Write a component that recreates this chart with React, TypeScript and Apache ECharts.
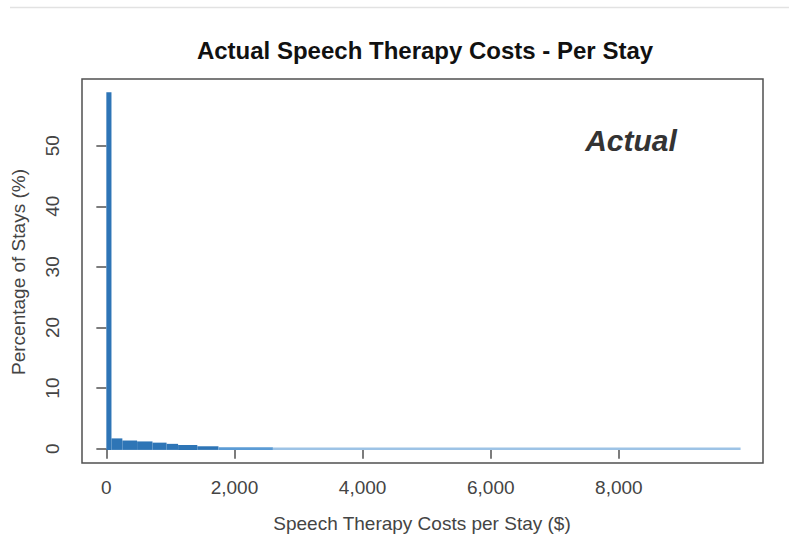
import React, { useEffect, useRef } from "react";
import * as echarts from "echarts";

// Histogram segments: [from $, to $, % of stays]
const segStart = [0, 80, 250, 480, 720, 940, 1120, 1420, 1750, 2600];
const segEnd = [80, 250, 480, 720, 940, 1120, 1420, 1750, 2600, 9900];
const segPct = [58.8, 1.7, 1.35, 1.2, 1.0, 0.8, 0.6, 0.4, 0.25, 0.1];

const xTicks = [0, 2000, 4000, 6000, 8000];
const yTicks = [0, 10, 20, 30, 40, 50];

const TITLE = "Actual Speech Therapy Costs - Per Stay";
const X_TITLE = "Speech Therapy Costs per Stay ($)";
const Y_TITLE = "Percentage of Stays (%)";
const TAG = "Actual";

const FONT = "'Liberation Sans', Arial, Helvetica, sans-serif";

export default function App() {
  const ref = useRef<HTMLDivElement>(null);
  useEffect(() => {
    document.body.style.margin = "0";
    const chart = echarts.init(ref.current!, null, { renderer: "svg" });
    const data = segStart.map((s, i) => [s, segEnd[i], segPct[i]]);
    const colorFor = (v: number) =>
      v >= 0.3 ? "#2e75b6" : v >= 0.2 ? "#5b9bd5" : "#9dc3e6";
    chart.setOption({
      animation: false,
      backgroundColor: "#ffffff",
      textStyle: { fontFamily: FONT },
      grid: {
        left: 82,
        top: 79,
        right: 26,
        bottom: 87,
        show: true,
        borderColor: "#505050",
        borderWidth: 1.5,
        backgroundColor: "transparent",
        outerBoundsMode: "none",
      },
      xAxis: {
        type: "value",
        min: -380,
        max: 10250,
        splitLine: { show: false },
        axisLine: { show: false },
        axisTick: {
          show: true,
          length: 10,
          customValues: xTicks,
          lineStyle: { color: "#505050", width: 1.5 },
        },
        axisLabel: {
          customValues: xTicks,
          margin: 15,
          fontSize: 19,
          color: "#444",
          fontFamily: FONT,
          formatter: (v: number) => v.toLocaleString("en-US"),
        },
      },
      yAxis: {
        type: "value",
        min: -2.36,
        max: 61.0,
        splitLine: { show: false },
        axisLine: { show: false },
        axisTick: {
          show: true,
          length: 10,
          customValues: yTicks,
          lineStyle: { color: "#505050", width: 1.5 },
        },
        axisLabel: {
          customValues: yTicks,
          rotate: 90,
          margin: 20,
          fontSize: 19,
          color: "#444",
          fontFamily: FONT,
        },
      },
      graphic: [
        {
          type: "line",
          shape: { x1: 10, y1: 7.5, x2: 789, y2: 7.5 },
          style: { stroke: "#e2e2e2", lineWidth: 1.5 },
          silent: true,
        },
        {
          type: "text",
          x: 425,
          y: 50,
          style: {
            text: TITLE,
            font: `bold 24px ${FONT}`,
            fill: "#111",
            textAlign: "center",
            textVerticalAlign: "middle",
          },
        },
        {
          type: "text",
          x: 422,
          y: 523,
          style: {
            text: X_TITLE,
            font: `19px ${FONT}`,
            fill: "#444",
            textAlign: "center",
            textVerticalAlign: "middle",
          },
        },
        {
          type: "text",
          x: 18,
          y: 272,
          rotation: Math.PI / 2,
          style: {
            text: Y_TITLE,
            font: `19px ${FONT}`,
            fill: "#444",
            textAlign: "center",
            textVerticalAlign: "middle",
          },
        },
        {
          type: "text",
          x: 631,
          y: 140,
          style: {
            text: TAG,
            font: `italic bold 30px ${FONT}`,
            fill: "#333",
            textAlign: "center",
            textVerticalAlign: "middle",
          },
        },
      ],
      series: [
        {
          type: "custom",
          data,
          encode: { x: [0, 1], y: 2 },
          renderItem: (params: any, api: any) => {
            const x0 = api.value(0);
            const x1 = api.value(1);
            const v = api.value(2);
            const pTop = api.coord([x0, v]);
            const pBase = api.coord([x1, 0]);
            const bottom = pBase[1] + 1.2;
            const top = Math.min(pTop[1], pBase[1] - 1.3);
            return {
              type: "rect",
              shape: {
                x: pTop[0],
                y: top,
                width: pBase[0] - pTop[0],
                height: bottom - top,
              },
              style: { fill: colorFor(v) },
            };
          },
        },
      ],
    });
    return () => chart.dispose();
  }, []);
  return <div ref={ref} style={{ width: 789, height: 550 }} />;
}
